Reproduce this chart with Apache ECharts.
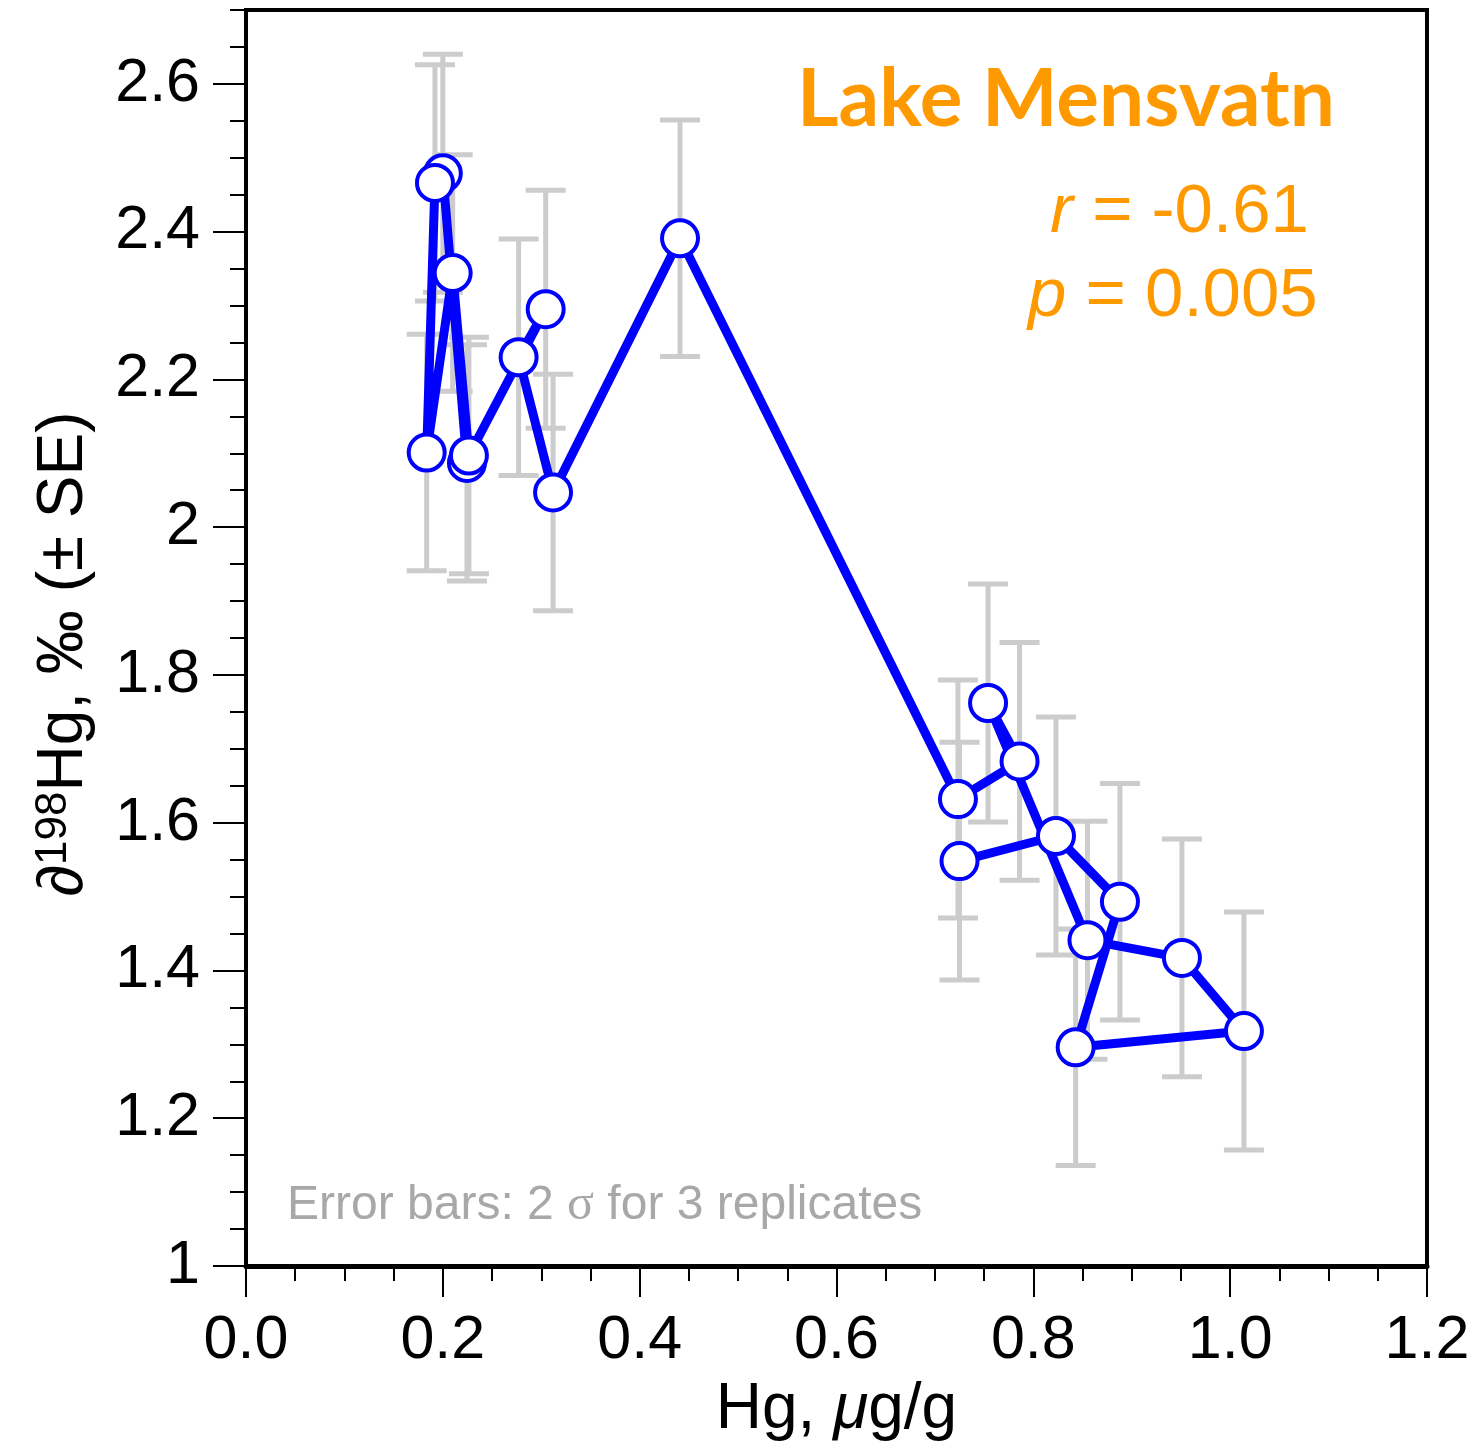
<!DOCTYPE html>
<html>
<head>
<meta charset="utf-8">
<script src="https://cdn.jsdelivr.net/npm/echarts@6/dist/echarts.min.js"></script>
<style>
html,body{margin:0;padding:0;background:#ffffff;}
#chart{width:1477px;height:1450px;}
</style>
</head>
<body>
<div id="chart"></div>
<script>
// Hg concentration (µg/g), in the order the line connects the samples
const hgConc = [0.2245, 0.200, 0.192, 0.1836, 0.210, 0.2265, 0.3045, 0.277, 0.312, 0.441,
                0.7234, 0.786, 0.754, 0.855, 0.951, 1.014, 0.843, 0.888, 0.823, 0.725];
// delta-198Hg (permil)
const d198Hg = [2.087, 2.479, 2.466, 2.101, 2.344, 2.097, 2.295, 2.230, 2.047, 2.391,
                1.632, 1.683, 1.762, 1.441, 1.417, 1.318, 1.296, 1.493, 1.582, 1.548];
// error bar half-length (2 sigma)
const err2s = [0.16, 0.161, 0.16, 0.16, 0.16, 0.16, 0.161, 0.16, 0.16, 0.16,
               0.161, 0.161, 0.161, 0.161, 0.161, 0.161, 0.16, 0.16, 0.161, 0.161];

const yMajorTicks = [1, 1.2, 1.4, 1.6, 1.8, 2, 2.2, 2.4, 2.6];
const xTickLabels = ['0.0', '0.2', '0.4', '0.6', '0.8', '1.0', '1.2'];

const lineData = hgConc.map((x, i) => [x, d198Hg[i]]);
const errData = hgConc.map((x, i) => [x, d198Hg[i] - err2s[i], d198Hg[i] + err2s[i]]);

const FONT = 'Liberation Sans';
const ORANGE = '#FF9900';
const BLUE = '#0000FF';

const chart = echarts.init(document.getElementById('chart'), null, {renderer: 'canvas'});

const option = {
  backgroundColor: '#ffffff',
  animation: false,
  grid: {
    left: 246, right: 50, top: 10, bottom: 184,
    show: true, borderColor: '#000000', borderWidth: 4, backgroundColor: 'transparent'
  },
  xAxis: {
    type: 'value', min: 0, max: 1.2, interval: 0.2,
    name: 'Hg, {i|μ}g/g',
    nameLocation: 'middle', nameGap: 112,
    nameTextStyle: {
      fontFamily: FONT, fontSize: 64, color: '#000',
      rich: {i: {fontFamily: FONT, fontSize: 64, fontStyle: 'italic', color: '#000'}}
    },
    axisLine: {show: true, onZero: false, lineStyle: {color: '#000', width: 5}},
    axisTick: {show: true, inside: false, length: 31, lineStyle: {color: '#000', width: 2}},
    minorTick: {show: true, splitNumber: 4, length: 15, lineStyle: {color: '#000', width: 2}},
    axisLabel: {
      margin: 45, fontFamily: FONT, fontSize: 61, color: '#000',
      formatter: (v) => xTickLabels[Math.round(v / 0.2)]
    },
    splitLine: {show: false}, minorSplitLine: {show: false}
  },
  yAxis: [
    {
      type: 'value', min: 1, max: 2.7, position: 'left',
      name: '∂{sup|198}Hg, ‰ (± SE)',
      nameLocation: 'middle', nameGap: 150, nameRotate: 90,
      nameTextStyle: {
        fontFamily: FONT, fontSize: 64, color: '#000', padding: [0, 32, 0, 0],
        rich: {sup: {fontFamily: FONT, fontSize: 44, verticalAlign: 'top', color: '#000'}}
      },
      axisLine: {show: true, onZero: false, lineStyle: {color: '#000', width: 4}},
      axisTick: {show: true, inside: false, length: 33, customValues: yMajorTicks, lineStyle: {color: '#000', width: 2}},
      axisLabel: {
        margin: 46, fontFamily: FONT, fontSize: 61, color: '#000',
        customValues: yMajorTicks,
        formatter: (v) => String(Math.round(v * 10) / 10)
      },
      splitLine: {show: false}
    },
    {
      type: 'value', min: 1, max: 2.7, interval: 0.05, position: 'left',
      axisLine: {show: false},
      axisTick: {show: true, inside: false, length: 16, lineStyle: {color: '#000', width: 2}},
      axisLabel: {show: false},
      splitLine: {show: false}
    }
  ],
  graphic: [
    {
      type: 'text', left: 797, top: 60, z: 100,
      style: {text: 'Lake Mensvatn', fontFamily: 'Lato', fontWeight: 'bold', fontSize: 80, fill: ORANGE}
    },
    {
      type: 'text', left: 1050, top: 178, z: 100,
      style: {
        text: '{i|r} = -0.61', fontFamily: FONT, fontSize: 69, fill: ORANGE,
        rich: {i: {fontFamily: FONT, fontSize: 69, fontStyle: 'italic', fill: ORANGE}}
      }
    },
    {
      type: 'text', left: 1028, top: 262, z: 100,
      style: {
        text: '{i|p} = 0.005', fontFamily: FONT, fontSize: 69, fill: ORANGE,
        rich: {i: {fontFamily: FONT, fontSize: 69, fontStyle: 'italic', fill: ORANGE}}
      }
    },
    {
      type: 'text', left: 287, top: 1181, z: 100,
      style: {
        text: 'Error bars: 2 {s|σ} for 3 replicates', fontFamily: FONT, fontSize: 48, fill: '#A8A8A8',
        rich: {s: {fontFamily: 'Liberation Serif', fontSize: 50, fill: '#A8A8A8'}}
      }
    }
  ],
  series: [
    {
      type: 'custom',
      name: 'error',
      xAxisIndex: 0, yAxisIndex: 0,
      data: errData,
      encode: {x: 0, y: [1, 2]},
      z: 1,
      silent: true,
      renderItem: function (params, api) {
        const x = api.value(0);
        const lo = api.coord([x, api.value(1)]);
        const hi = api.coord([x, api.value(2)]);
        const hw = 20;
        const style = {stroke: '#CCCCCC', lineWidth: 5};
        return {
          type: 'group',
          children: [
            {type: 'line', shape: {x1: lo[0], y1: lo[1], x2: hi[0], y2: hi[1]}, style: style},
            {type: 'line', shape: {x1: lo[0] - hw, y1: lo[1], x2: lo[0] + hw, y2: lo[1]}, style: style},
            {type: 'line', shape: {x1: hi[0] - hw, y1: hi[1], x2: hi[0] + hw, y2: hi[1]}, style: style}
          ]
        };
      }
    },
    {
      type: 'line',
      name: 'd198Hg',
      xAxisIndex: 0, yAxisIndex: 0,
      data: lineData,
      z: 5,
      symbol: 'circle',
      symbolSize: 36,
      showAllSymbol: true,
      lineStyle: {color: BLUE, width: 9},
      itemStyle: {color: '#FFFFFF', borderColor: BLUE, borderWidth: 4},
      emphasis: {disabled: true}
    }
  ]
};

chart.setOption(option);
</script>
</body>
</html>
